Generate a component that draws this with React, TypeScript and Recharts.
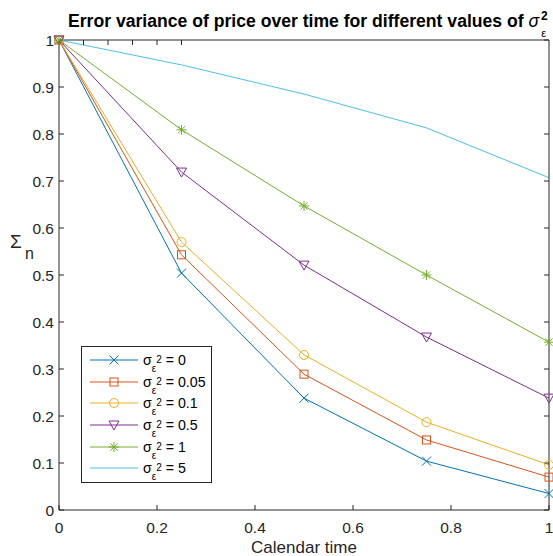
import { LineChart, Line, XAxis, YAxis, Legend } from "recharts";

// calendar time samples
const times = [0, 0.25, 0.5, 0.75, 1];

// Sigma_n for each value of sigma_eps^2
const sigma0 = [1, 0.504, 0.238, 0.104, 0.035];
const sigma005 = [1, 0.543, 0.289, 0.149, 0.07];
const sigma01 = [1, 0.57, 0.33, 0.187, 0.096];
const sigma05 = [1, 0.719, 0.521, 0.368, 0.238];
const sigma1 = [1, 0.809, 0.647, 0.5, 0.357];
const sigma5 = [1, 0.947, 0.885, 0.813, 0.707];

const xTicks = [0, 0.2, 0.4, 0.6, 0.8, 1];
const yTicks = [0, 0.1, 0.2, 0.3, 0.4, 0.5, 0.6, 0.7, 0.8, 0.9, 1];

const seriesLabels = ["0", "0.05", "0.1", "0.5", "1", "5"];

const AXIS = "#262626";
const FONT = "'Liberation Sans', Arial, Helvetica, sans-serif";

type Shape = "x" | "square" | "circle" | "triangle" | "star" | "none";

const series: { key: string; values: number[]; color: string; shape: Shape }[] = [
  { key: "s0", values: sigma0, color: "#0072BD", shape: "x" },
  { key: "s005", values: sigma005, color: "#D95319", shape: "square" },
  { key: "s01", values: sigma01, color: "#EDB120", shape: "circle" },
  { key: "s05", values: sigma05, color: "#7E2F8E", shape: "triangle" },
  { key: "s1", values: sigma1, color: "#77AC30", shape: "star" },
  { key: "s5", values: sigma5, color: "#4DBEEE", shape: "none" },
];

const data = times.map((t, i) => {
  const row: Record<string, number> = { t };
  series.forEach((s) => (row[s.key] = s.values[i]));
  return row;
});

function Marker({ shape, cx, cy, color }: { shape: Shape; cx: number; cy: number; color: string }) {
  const r = 4.5;
  switch (shape) {
    case "x":
      return (
        <g stroke={color} strokeWidth={1}>
          <line x1={cx - r} y1={cy - r} x2={cx + r} y2={cy + r} />
          <line x1={cx - r} y1={cy + r} x2={cx + r} y2={cy - r} />
        </g>
      );
    case "square":
      return <rect x={cx - 4} y={cy - 4} width={8} height={8} fill="none" stroke={color} />;
    case "circle":
      return <circle cx={cx} cy={cy} r={4.5} fill="none" stroke={color} />;
    case "triangle":
      return (
        <polygon
          points={`${cx - 5},${cy - 4} ${cx + 5},${cy - 4} ${cx},${cy + 5}`}
          fill="none"
          stroke={color}
        />
      );
    case "star":
      return (
        <g stroke={color} strokeWidth={1}>
          <line x1={cx - 5} y1={cy} x2={cx + 5} y2={cy} />
          <line x1={cx} y1={cy - 5} x2={cx} y2={cy + 5} />
          <line x1={cx - 3.6} y1={cy - 3.6} x2={cx + 3.6} y2={cy + 3.6} />
          <line x1={cx - 3.6} y1={cy + 3.6} x2={cx + 3.6} y2={cy - 3.6} />
        </g>
      );
    default:
      return null;
  }
}

function LegendBox() {
  const rows = [14, 36, 57, 79, 101, 122];
  return (
    <svg width={131} height={137} style={{ display: "block" }}>
      <rect x={0.5} y={0.5} width={130} height={136} fill="#fff" stroke={AXIS} />
      {series.map((s, i) => (
        <g key={s.key}>
          <line x1={9} y1={rows[i]} x2={57} y2={rows[i]} stroke={s.color} />
          <Marker shape={s.shape} cx={33} cy={rows[i]} color={s.color} />
          <text x={62} y={rows[i] + 5} fontFamily={FONT} fontSize={14.2} fill="#000">
            <tspan>σ</tspan>
            <tspan fontSize={10} dy={7}>ε</tspan>
            <tspan fontSize={10} dy={-9}>2</tspan>
            <tspan dy={2}>{` = ${seriesLabels[i]}`}</tspan>
          </text>
        </g>
      ))}
    </svg>
  );
}

export default function App() {
  return (
    <div style={{ position: "absolute", left: 0, top: 0, width: 553, height: 556, background: "#fff" }}>
      <svg width={553} height={44} style={{ position: "absolute", left: 0, top: 0 }}>
        <text x={68} y={27} fontFamily={FONT} fontSize={17.6} fontWeight="bold" fill="#000">
          <tspan>Error variance of price over time for different values of </tspan>
          <tspan fontWeight="normal" fontStyle="italic">σ</tspan>
          <tspan fontSize={11} fontWeight="normal" dx={2} dy={10}>ε</tspan>
          <tspan fontSize={12} dx={-5} dy={-17}>2</tspan>
        </text>
      </svg>
      <LineChart width={553} height={556} data={data} margin={{ top: 0, right: 0, bottom: 0, left: 0 }}>
        <XAxis
          dataKey="t"
          type="number"
          domain={[0, 1]}
          ticks={xTicks}
          tickSize={-5}
          tickMargin={17}
          height={46}
          stroke={AXIS}
          tick={{ fill: AXIS, fontSize: 15.5, fontFamily: FONT }}
          label={{
            content: () => (
              <text x={304} y={553} textAnchor="middle" fontFamily={FONT} fontSize={17} fill={AXIS}>
                Calendar time
              </text>
            ),
          }}
        />
        <XAxis
          xAxisId="top"
          orientation="top"
          type="number"
          domain={[0, 1]}
          allowDataOverflow
          ticks={xTicks}
          tickSize={-5}
          tickFormatter={() => ""}
          height={40}
          stroke={AXIS}
        />
        <YAxis
          type="number"
          domain={[0, 1]}
          ticks={yTicks}
          tickSize={-5}
          tickMargin={10}
          width={59}
          stroke={AXIS}
          tick={{ fill: AXIS, fontSize: 15.5, fontFamily: FONT }}
          label={{
            content: () => (
              <text x={10} y={248} fontFamily={FONT} fontSize={19} fill={AXIS}>
                <tspan>Σ</tspan>
                <tspan x={25} dy={11} fontSize={16}>n</tspan>
              </text>
            ),
          }}
        />
        <YAxis
          yAxisId="right"
          orientation="right"
          type="number"
          domain={[0, 1]}
          allowDataOverflow
          ticks={yTicks}
          tickSize={-5}
          tickFormatter={() => ""}
          width={4}
          stroke={AXIS}
        />
        {series.map((s) => (
          <Line
            key={s.key}
            dataKey={s.key}
            stroke={s.color}
            strokeWidth={1}
            isAnimationActive={false}
            dot={
              s.shape === "none"
                ? false
                : (p: any) => <Marker key={`${s.key}-${p.index}`} shape={s.shape} cx={p.cx} cy={p.cy} color={s.color} />
            }
            activeDot={false}
          />
        ))}
        <Legend
          layout="vertical"
          align="center"
          verticalAlign="middle"
          content={() => <LegendBox />}
          wrapperStyle={{ left: 81, top: 346, width: 131, height: 137 }}
        />
      </LineChart>
    </div>
  );
}
